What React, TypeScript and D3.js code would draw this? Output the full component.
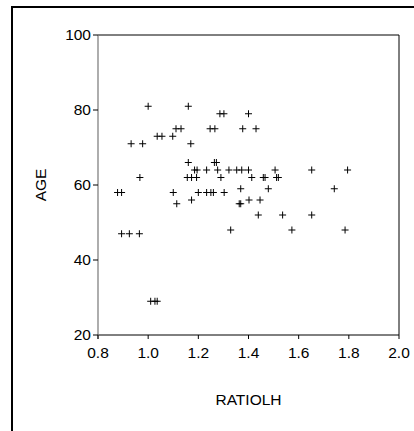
import React from "react";
import * as d3 from "d3";

// RATIOLH vs AGE observations
const ratiolh: number[] = [
  1.0, 1.16,
  1.286, 1.302, 1.4,
  1.111, 1.131, 1.247, 1.266, 1.377, 1.43,
  1.036, 1.055, 1.098,
  0.932, 0.978, 1.17,
  1.16, 1.264, 1.272,
  1.185, 1.195, 1.233, 1.277, 1.322, 1.353, 1.373, 1.4, 1.506, 1.652, 1.795,
  0.967, 1.156, 1.173, 1.193, 1.29, 1.413, 1.459, 1.466, 1.512, 1.519,
  1.369, 1.479, 1.742,
  0.878, 0.894, 1.1, 1.2, 1.233, 1.25, 1.26, 1.303,
  1.173, 1.402, 1.446,
  1.114, 1.363, 1.369,
  1.439, 1.536, 1.652,
  1.329, 1.573, 1.785,
  0.894, 0.925, 0.965,
  1.01, 1.027, 1.036,
];
const age: number[] = [
  81, 81,
  79, 79, 79,
  75, 75, 75, 75, 75, 75,
  73, 73, 73,
  71, 71, 71,
  66, 66, 66,
  64, 64, 64, 64, 64, 64, 64, 64, 64, 64, 64,
  62, 62, 62, 62, 62, 62, 62, 62, 62, 62,
  59, 59, 59,
  58, 58, 58, 58, 58, 58, 58, 58,
  56, 56, 56,
  55, 55, 55,
  52, 52, 52,
  48, 48, 48,
  47, 47, 47,
  29, 29, 29,
];
const xTicks: number[] = [0.8, 1.0, 1.2, 1.4, 1.6, 1.8, 2.0];
const yTicks: number[] = [20, 40, 60, 80, 100];
const xLabel = "RATIOLH";
const yLabel = "AGE";

const W = 414;
const H = 431;
const left = 98;
const right = 399;
const top = 35;
const bottom = 335;
const font = "'Liberation Sans', Arial, sans-serif";
const fs = 15.5;

export default function App() {
  const x = d3.scaleLinear().domain([0.8, 2.0]).range([left, right]);
  const y = d3.scaleLinear().domain([20, 100]).range([bottom, top]);
  const pts = ratiolh.map((r, i) => ({ r, a: age[i] }));
  const arm = 3.5;

  return (
    <svg
      width={W}
      height={H}
      style={{ position: "absolute", left: 0, top: 0, background: "#fff" }}
      fontFamily={font}
    >
      {/* outer frame */}
      <rect x={12} y={7} width={W} height={H} fill="none" stroke="#000" strokeWidth={2} />

      {/* plot box */}
      <line x1={left} x2={right} y1={top} y2={top} stroke="#000" strokeWidth={1} />
      <line x1={right} x2={right} y1={top} y2={bottom} stroke="#000" strokeWidth={1} />
      <line x1={left} x2={right} y1={bottom} y2={bottom} stroke="#000" strokeWidth={1} />
      <line x1={left} x2={left} y1={top} y2={bottom + 4} stroke="#777" strokeWidth={1.2} />

      {/* y axis */}
      {yTicks.map((t) => (
        <g key={`y${t}`}>
          <line x1={left - 5} x2={left} y1={y(t)} y2={y(t)} stroke="#000" strokeWidth={1} />
          <text x={left - 7} y={y(t)} dy="0.35em" textAnchor="end" fontSize={fs} fill="#000">
            {t}
          </text>
        </g>
      ))}

      {/* x axis */}
      {xTicks.map((t) => (
        <g key={`x${t}`}>
          <line x1={x(t)} x2={x(t)} y1={bottom} y2={bottom + 4} stroke="#000" strokeWidth={1} />
          <text x={x(t)} y={bottom + 23} textAnchor="middle" fontSize={fs} fill="#000">
            {d3.format(".1f")(t)}
          </text>
        </g>
      ))}

      {/* axis titles */}
      <text x={(left + right) / 2} y={405} textAnchor="middle" fontSize={fs} fill="#000">
        {xLabel}
      </text>
      <text
        transform={`translate(45.5, ${(top + bottom) / 2}) rotate(-90)`}
        textAnchor="middle"
        fontSize={fs}
        fill="#000"
      >
        {yLabel}
      </text>

      {/* plus markers */}
      {pts.map((p, i) => {
        const cx = x(p.r);
        const cy = y(p.a);
        return (
          <g key={i} stroke="#000" strokeWidth={1}>
            <line x1={cx - arm} x2={cx + arm} y1={cy} y2={cy} />
            <line x1={cx} x2={cx} y1={cy - arm} y2={cy + arm} />
          </g>
        );
      })}
    </svg>
  );
}
